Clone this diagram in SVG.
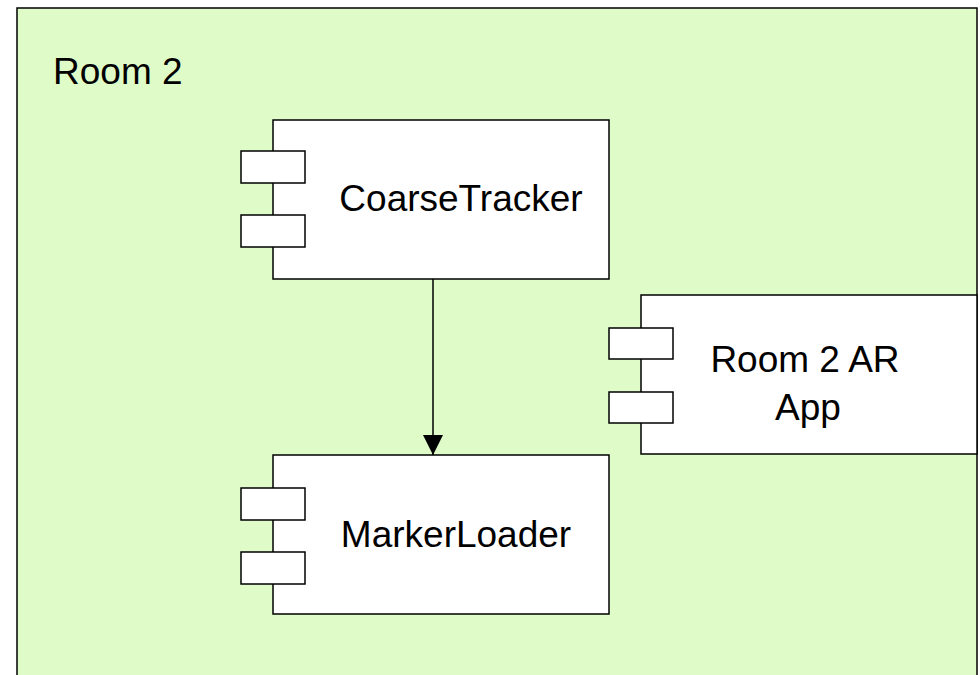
<svg xmlns="http://www.w3.org/2000/svg" width="980" height="675" viewBox="0 0 980 675">
<defs>
<style>
.box{fill:#ffffff;stroke:#000000;stroke-width:1.5}
.port{fill:#ffffff;stroke:#000000;stroke-width:1.5}
.lbl{font-family:"Liberation Sans",Arial,sans-serif;font-size:37px;fill:#000000}
.edge{stroke:#000000;stroke-width:1.5;fill:none}
</style>
<marker id="arr" markerWidth="22" markerHeight="22" refX="20" refY="10" orient="auto" markerUnits="userSpaceOnUse">
<path d="M0,0 L20,10 L0,20 Z" fill="#000000"/>
</marker>
</defs>
<rect width="980" height="675" fill="#ffffff"/>
<g id="room2">
<rect x="17" y="8" width="960" height="700" fill="#dffcc8" stroke="#000000" stroke-width="1.5"/>
<text class="lbl" x="53" y="84">Room 2</text>
</g>
<g id="coarsetracker">
<rect class="box" x="273" y="120" width="336" height="159"/>
<rect class="port" x="241" y="151" width="64" height="32"/>
<rect class="port" x="241" y="215" width="64" height="32"/>
<text class="lbl" x="461" y="211" text-anchor="middle">CoarseTracker</text>
</g>
<g id="markerloader">
<rect class="box" x="273" y="455" width="336" height="159"/>
<rect class="port" x="241" y="488" width="64" height="32"/>
<rect class="port" x="241" y="552" width="64" height="32"/>
<text class="lbl" x="456" y="547" text-anchor="middle">MarkerLoader</text>
</g>
<g id="room2arapp">
<rect class="box" x="641" y="295" width="336" height="159"/>
<rect class="port" x="609" y="328" width="64" height="31"/>
<rect class="port" x="609" y="392" width="64" height="31"/>
<text class="lbl" x="805" y="372" text-anchor="middle">Room 2 AR</text>
<text class="lbl" x="808" y="420" text-anchor="middle">App</text>
</g>
<g id="connectors">
<line class="edge" x1="433" y1="279" x2="433" y2="455" marker-end="url(#arr)"/>
</g>
</svg>
